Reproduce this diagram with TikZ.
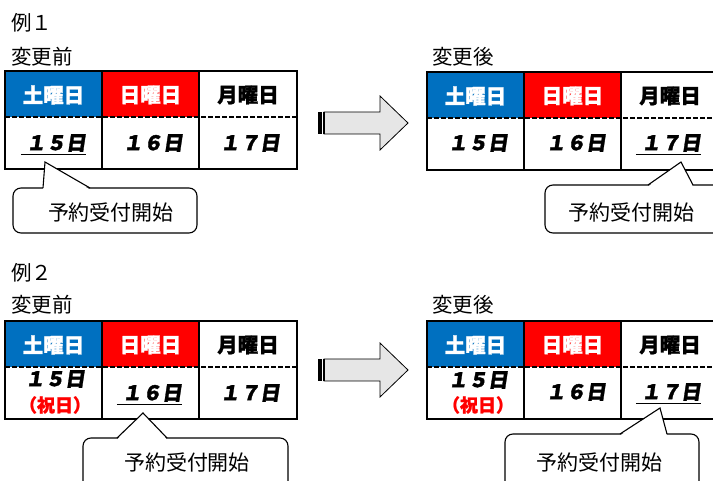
\documentclass[tikz,border=0pt]{standalone}
\usepackage{fontspec}
\setmainfont{Noto Sans CJK JP}
\newfontfamily\daynum[FakeSlant=0.15, FakeBold=1.5]{Noto Sans CJK JP}
\newfontfamily\headfont[FakeBold=1.2]{Noto Sans CJK JP}
\usetikzlibrary{calc}
\definecolor{satblue}{RGB}{0,112,192}
\definecolor{sunred}{RGB}{255,0,0}
\definecolor{arrowgray}{RGB}{230,230,230}
\tikzset{
  titletext/.style={anchor=west, inner sep=0, font=\fontsize{20.5}{20.5}\selectfont},
  headtext/.style={inner sep=0, font=\headfont\bfseries\fontsize{20.5}{20.5}\selectfont},
  daytext/.style={inner sep=0, font=\daynum\bfseries\fontsize{20}{20}\selectfont},
  holtext/.style={inner sep=0, text=sunred, font=\headfont\bfseries\fontsize{18}{18}\selectfont},
  bubble/.style={draw, line width=1.1, rounded corners=8, fill=white},
  notetext/.style={inner sep=0, font=\fontsize{21}{21}\selectfont},
}
\newcommand\weektable[3]{% left, top, name
  \fill[satblue] (#1,#2) rectangle +(97,46);
  \fill[sunred] (#1+97,#2) rectangle +(97,46);
  \draw[line width=1.3, dash pattern=on 5 off 2] (#1,#2+46) -- +(292,0);
  \draw[line width=2] (#1,#2) rectangle +(292,98)
    (#1+97,#2) -- +(0,98) (#1+194,#2) -- +(0,98);
  \node[headtext, text=white] (#3sat) at (#1+48.5,#2+24) {土曜日};
  \node[headtext, text=white] (#3sun) at (#1+145.5,#2+24) {日曜日};
  \node[headtext] (#3mon) at (#1+243,#2+24) {月曜日};
}
\newcommand\stripearrow[2]{% left x, mid y
  \fill (#1,#2-11) rectangle +(3.5,22);
  \filldraw[fill=arrowgray, line width=0.8] (#1+6,#2-11) -- (#1+62,#2-11)
    -- (#1+62,#2-27) -- (#1+90,#2) -- (#1+62,#2+27) -- (#1+62,#2+11)
    -- (#1+6,#2+11) -- cycle;
  \draw[line width=1.6] (#1+6,#2-11) -- +(0,22);
}
\newcommand\dayline[1]{% underline below a day
  \draw[line width=1.3] ($(#1.base west)+(-5,4)$) -- ($(#1.base east)+(0,4)$);
}

\begin{document}
\begin{tikzpicture}[x=1pt, y=-1pt]
\useasboundingbox (0,0) rectangle (713,481);
\clip (0,0) rectangle (713,481);

% example 1
\node[titletext] (ex1) at (11,23) {例１};
\node[titletext] (pre1) at (11,57) {変更前};
\node[titletext] (post1) at (432,57) {変更後};
\weektable{5}{71}{a}
\node[daytext] (a15) at (56,143) {１５日};
\node[daytext] (a16) at (153,143) {１６日};
\node[daytext] (a17) at (250,143) {１７日};
\dayline{a15}
\stripearrow{318}{123}
\weektable{427}{72}{b}
\node[daytext] (b15) at (478,143) {１５日};
\node[daytext] (b16) at (576,143) {１６日};
\node[daytext] (b17) at (671,143) {１７日};
\dayline{b17}

% callouts, example 1
\coordinate (tipa) at (45,162);
\draw[bubble] (13,188) rectangle (197,233);
\fill[white] (43,189.6) -- (tipa) -- (90,189.6) -- cycle;
\draw[line width=1.1] (43,188) -- (tipa) -- (90,188);
\node[notetext] (notea) at (111,213) {予約受付開始};
\coordinate (tipb) at (681,162);
\draw[bubble] (545,185) rectangle (745,233);
\fill[white] (648,186.6) -- (tipb) -- (693,186.6) -- cycle;
\draw[line width=1.1] (648,185) -- (tipb) -- (693,185);
\node[notetext] (noteb) at (631,213) {予約受付開始};

% example 2
\node[titletext] (ex2) at (11,273) {例２};
\node[titletext] (pre2) at (11,305) {変更前};
\node[titletext] (post2) at (432,305) {変更後};
\weektable{5}{321}{c}
\node[daytext] (c15) at (55,379) {１５日};
\node[holtext] (chol) at (55,405) {（祝日）};
\node[daytext] (c16) at (152,393) {１６日};
\node[daytext] (c17) at (250,393) {１７日};
\dayline{c16}
\stripearrow{318}{370}
\weektable{427}{321}{d}
\node[daytext] (d15) at (478,380) {１５日};
\node[holtext] (dhol) at (478,405) {（祝日）};
\node[daytext] (d16) at (576,392) {１６日};
\node[daytext] (d17) at (671,392) {１７日};
\dayline{d17}

% callouts, example 2
\coordinate (tipc) at (143,413);
\draw[bubble] (83,438) rectangle (288,500);
\fill[white] (117,439.6) -- (tipc) -- (167,439.6) -- cycle;
\draw[line width=1.1] (117,438) -- (tipc) -- (167,438);
\node[notetext] (notec) at (187,463) {予約受付開始};
\coordinate (tipd) at (660,408);
\draw[bubble] (505,434) rectangle (699,500);
\fill[white] (620,435.6) -- (tipd) -- (667,435.6) -- cycle;
\draw[line width=1.1] (620,434) -- (tipd) -- (667,434);
\node[notetext] (noted) at (599,463) {予約受付開始};
\end{tikzpicture}
\end{document}
